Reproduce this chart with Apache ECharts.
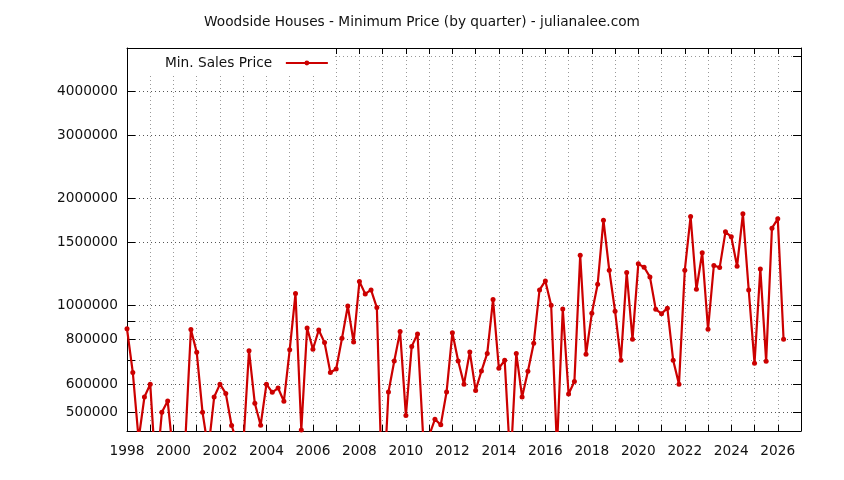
<!DOCTYPE html>
<html><head><meta charset="utf-8">
<script src="https://cdn.jsdelivr.net/npm/echarts@6/dist/echarts.min.js"></script>
<style>html,body{margin:0;padding:0;background:#fff}#c{width:844px;height:480px}</style>
</head><body><div id="c"></div>
<script>
const chartTitle = 'Woodside Houses - Minimum Price (by quarter) - julianalee.com';
const seriesName = 'Min. Sales Price';
const firstYear = 1998;
// quarterly minimum prices, 1998 Q1 .. 2026 Q2
const prices = [
  858000, 647000, 420000, 552000,
  600000, 330000, 500000, 538000,
  373000, 380000, 405000, 854000,
  737000, 500000, 392000, 552000,
  600000, 565000, 459000, 410000,
  400000, 745000, 530000, 460000,
  600000, 569000, 585000, 537000,
  749000, 1078000, 446000, 863000,
  752000, 852000, 785000, 647000,
  662000, 807000, 995000, 788000,
  1166000, 1076000, 1104000, 985000,
  270000, 570000, 697000, 843000,
  490000, 766000, 830000, 418000,
  430000, 478000, 461000, 570000,
  837000, 697000, 600000, 739000,
  576000, 653000, 732000, 1037000,
  665000, 700000, 355000, 732000,
  552000, 652000, 782000, 1104000,
  1170000, 1000000, 397000, 976000,
  563000, 610000, 1382000, 728000,
  949000, 1145000, 1734000, 1254000,
  962000, 700000, 1236000, 802000,
  1307000, 1279000, 1201000, 974000,
  947000, 981000, 700000, 600000,
  1254000, 1776000, 1109000, 1404000,
  856000, 1293000, 1276000, 1608000,
  1557000, 1287000, 1807000, 1104000,
  687000, 1265000, 696000, 1647000,
  1749000, 802000
];
const yTickValues = [500000, 600000, 700000, 800000, 900000, 1000000, 1500000, 2000000, 3000000, 4000000, 5000000];
const yLabelValues = [500000, 600000, 800000, 1000000, 1500000, 2000000, 3000000, 4000000];
const yMin = 443000, yMax = 5285000;
const xMin = 1998, xMax = 2027;

const quarterX = prices.map((_, i) => firstYear + i / 4);
const seriesData = prices.map((v, i) => [quarterX[i], v]);

const FONT = 'DejaVu Sans';
const FS = 13.7;
const gridColors = yTickValues.map(v => yLabelValues.includes(v) ? '#555' : '#999');

const chart = echarts.init(document.getElementById('c'), null, {renderer: 'canvas'});
chart.setOption({
  animation: false,
  backgroundColor: '#fff',
  title: {
    text: chartTitle, left: 'center', top: 10,
    textStyle: {fontFamily: FONT, fontSize: FS, fontWeight: 'normal', color: '#111'}
  },
  legend: {
    data: [{name: seriesName}],
    align: 'right', left: 128, top: 49, orient: 'vertical',
    padding: [7, 6, 6, 37],
    backgroundColor: '#fff',
    itemWidth: 42, itemHeight: 6,
    formatter: n => n + '  ',
    textStyle: {fontFamily: FONT, fontSize: FS, color: '#111'}
  },
  grid: {left: 127, right: 43, top: 48, bottom: 49, containLabel: false},
  xAxis: [{
    type: 'value', min: xMin, max: xMax, interval: 1, position: 'bottom',
    axisLine: {show: true, lineStyle: {color: '#000', width: 1}},
    axisTick: {show: true, inside: true, length: 6, lineStyle: {color: '#000'}},
    axisLabel: {margin: 13, fontFamily: FONT, fontSize: FS, color: '#111',
      formatter: v => (v % 2 === 0 ? String(v) : '')},
    splitLine: {show: true, lineStyle: {color: '#999', type: [1, 3], width: 1}}
  }, {
    type: 'value', min: xMin, max: xMax, interval: 1, position: 'top',
    axisLine: {show: true, lineStyle: {color: '#000', width: 1}},
    axisTick: {show: true, inside: true, length: 6, lineStyle: {color: '#000'}},
    axisLabel: {show: false}, splitLine: {show: false}
  }],
  yAxis: [{
    type: 'log', logBase: 10, min: yMin, max: yMax, position: 'left',
    axisLine: {show: true, lineStyle: {color: '#000', width: 1}},
    axisTick: {show: true, inside: true, length: 8, customValues: yTickValues, lineStyle: {color: '#000'}},
    axisLabel: {margin: 9, fontFamily: FONT, fontSize: FS, color: '#111', customValues: yLabelValues,
      formatter: v => String(Math.round(v))},
    splitLine: {show: true, lineStyle: {color: gridColors, type: [1, 3], width: 1}},
    minorTick: {show: false}, minorSplitLine: {show: false}
  }, {
    type: 'log', logBase: 10, min: yMin, max: yMax, position: 'right',
    axisLine: {show: true, lineStyle: {color: '#000', width: 1}},
    axisTick: {show: true, inside: true, length: 8, customValues: yTickValues, lineStyle: {color: '#000'}},
    axisLabel: {show: false}, splitLine: {show: false}
  }],
  series: [{
    name: seriesName, type: 'line', xAxisIndex: 0, yAxisIndex: 0,
    data: seriesData, clip: true,
    symbol: 'circle', symbolSize: 5, showSymbol: true,
    lineStyle: {color: '#cc0000', width: 2.2},
    itemStyle: {color: '#cc0000'}
  }]
});
</script></body></html>
